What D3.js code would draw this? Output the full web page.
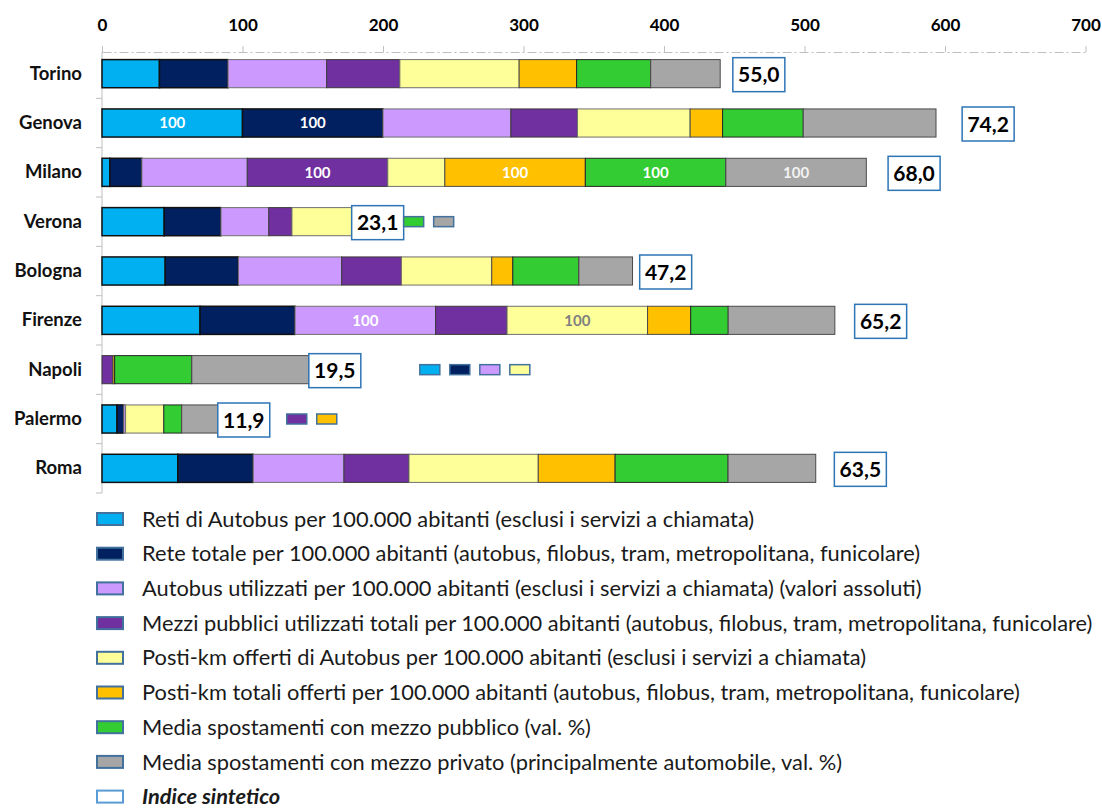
<!DOCTYPE html>
<html>
<head>
<meta charset="utf-8">
<script src="https://cdn.jsdelivr.net/npm/d3@7"></script>
<style>
  body { margin: 0; background: #ffffff; }
  svg { display: block; }
</style>
</head>
<body>
<svg id="chart" width="1102" height="810"></svg>
<script>
// Città (asse verticale, dall'alto verso il basso)
const cities = ["Torino", "Genova", "Milano", "Verona", "Bologna", "Firenze", "Napoli", "Palermo", "Roma"];

// Indicatori normalizzati (100 = valore massimo); null = dato non disponibile
const retiAutobus       = [40.9, 100,  5.6, 44.3, 45.0, 69.8, null, 10.7, 54.0];
const reteTotale        = [48.8, 100, 22.8, 40.4, 52.1, 67.6, null,  4.8, 53.6];
const autobusUtilizzati = [70.2, 91.0, 75.0, 34.0, 73.5, 100, null,  1.3, 64.6];
const mezziTotali       = [52.1, 47.4, 100, 16.5, 42.5, 50.9,  7.8, null, 46.3];
const postiKmAutobus    = [84.9, 80.2, 40.6, 42.5, 64.3, 100, null, 27.2, 92.0];
const postiKmTotali     = [40.9, 23.1, 100,  0,   15.0, 30.7,  1.2, null, 54.7];
const spostPubblico     = [52.7, 57.4, 100, null, 47.0, 26.7, 54.9, 12.7, 80.4];
const spostPrivato      = [49.5, 94.5, 100, null, 38.2, 75.9, 83.3, 25.7, 62.4];

// Indice sintetico per città
const indiceSintetico = [55.0, 74.2, 68.0, 23.1, 47.2, 65.2, 19.5, 11.9, 63.5];

// Tacche dell'asse orizzontale
const xTicks = [0, 100, 200, 300, 400, 500, 600, 700];

const seriesNames = [
  "Reti di Autobus per 100.000 abitanti (esclusi i servizi a chiamata)",
  "Rete totale per 100.000 abitanti (autobus, filobus, tram, metropolitana, funicolare)",
  "Autobus utilizzati per 100.000 abitanti (esclusi i servizi a chiamata) (valori assoluti)",
  "Mezzi pubblici utilizzati totali per 100.000 abitanti (autobus, filobus, tram, metropolitana, funicolare)",
  "Posti-km offerti di Autobus per 100.000 abitanti (esclusi i servizi a chiamata)",
  "Posti-km totali offerti per 100.000 abitanti (autobus, filobus, tram, metropolitana, funicolare)",
  "Media spostamenti con mezzo pubblico (val. %)",
  "Media spostamenti con mezzo privato (principalmente automobile, val. %)"
];
const indexName = "Indice sintetico";

const seriesValues = [retiAutobus, reteTotale, autobusUtilizzati, mezziTotali,
                      postiKmAutobus, postiKmTotali, spostPubblico, spostPrivato];

const seriesColors = ["#00B0F0", "#002060", "#CC99FF", "#7030A0",
                      "#FFFF99", "#FFC000", "#33CC33", "#A6A6A6"];
const seriesStroke = ["#111111", "#111111", "#6f6f6f", "#3a3a3a",
                      "#6f6f6f", "#4a4a4a", "#262626", "#4a4a4a"];
const seriesStrokeW = [1.5, 1.5, 1, 1, 1, 1, 1, 1];
const insideLabelColor = ["#ffffff", "#ffffff", "#ffffff", "#ffffff",
                          "#808080", "#ffffff", "#ffffff", "#f2f2f2"];

// Indicatori mancanti segnalati accanto alla barra (indici delle serie)
const missingCities = ["Verona", "Napoli", "Palermo"];
const missingSeries = [[6, 7], [0, 1, 2, 4], [3, 5]];

const FONT = "Lato, 'Open Sans', 'DejaVu Sans', sans-serif";
const svg = d3.select("#chart");

const x = d3.scaleLinear().domain([0, 700]).range([102, 1085.5]);
const y = d3.scaleBand().domain(cities).range([49, 493])
  .paddingInner(0.43).paddingOuter(0.215);

// ---- Asse superiore (tratto-punto) ----
const xAxisG = svg.append("g")
  .attr("transform", "translate(0,52)")
  .call(d3.axisTop(x).tickValues(xTicks).tickSize(6).tickSizeOuter(0).tickPadding(15));
xAxisG.select(".domain")
  .attr("stroke", "#bfbfbf").attr("stroke-width", 1)
  .attr("stroke-dasharray", "9,3,2,3");
xAxisG.selectAll(".tick line").attr("stroke", "#bfbfbf");
xAxisG.selectAll(".tick text")
  .attr("fill", "#000").style("font-family", FONT)
  .style("font-size", "17px").style("font-weight", "bold");

// ---- Asse verticale ----
const step = y.step();
svg.append("line")
  .attr("x1", x(0)).attr("x2", x(0))
  .attr("y1", 52).attr("y2", y(cities[cities.length - 1]) + y.bandwidth() + step * y.paddingInner() / 2)
  .attr("stroke", "#bfbfbf");
svg.append("g").selectAll("line")
  .data(cities)
  .join("line")
  .attr("x1", x(0) - 6).attr("x2", x(0))
  .attr("y1", d => y(d) + y.bandwidth() + step * y.paddingInner() / 2)
  .attr("y2", d => y(d) + y.bandwidth() + step * y.paddingInner() / 2)
  .attr("stroke", "#bfbfbf");

const yAxisG = svg.append("g")
  .attr("transform", `translate(${x(0)},0)`)
  .call(d3.axisLeft(y).tickSize(0).tickPadding(20));
yAxisG.select(".domain").remove();
yAxisG.selectAll(".tick text")
  .attr("fill", "#111").style("font-family", FONT)
  .style("font-size", "18.5px").style("font-weight", "bold");

// ---- Barre impilate ----
const table = cities.map((c, i) => {
  const row = { city: c };
  seriesValues.forEach((s, k) => { row["s" + k] = s[i] == null ? 0 : s[i]; });
  return row;
});
const keys = seriesValues.map((_, k) => "s" + k);
const stacked = d3.stack().keys(keys)(table);

const barsG = svg.append("g");
stacked.forEach((layer, k) => {
  const g = barsG.append("g");
  g.selectAll("rect")
    .data(layer.filter(d => d[1] - d[0] > 0))
    .join("rect")
    .attr("x", d => x(d[0]))
    .attr("y", d => y(d.data.city))
    .attr("width", d => x(d[1]) - x(d[0]))
    .attr("height", y.bandwidth())
    .attr("fill", seriesColors[k])
    .attr("stroke", seriesStroke[k])
    .attr("stroke-width", seriesStrokeW[k]);
  g.selectAll("text")
    .data(layer.filter(d => d[1] - d[0] === 100))
    .join("text")
    .attr("x", d => x((d[0] + d[1]) / 2))
    .attr("y", d => y(d.data.city) + y.bandwidth() / 2)
    .attr("dy", "0.35em")
    .attr("text-anchor", "middle")
    .attr("fill", insideLabelColor[k])
    .style("font-family", FONT).style("font-size", "15px").style("font-weight", "bold")
    .text(d => d[1] - d[0]);
});

// ---- Etichette dell'indice sintetico ----
const totals = table.map(r => d3.sum(keys, k => r[k]));
const boxW = 52, boxH = 34;
const labelBoxes = cities.map((c, i) => {
  const end = x(totals[i]);
  const cx = x(totals[i] + indiceSintetico[i] / 2);
  const left = Math.max(cx - boxW / 2, end);
  return { city: c, left, value: indiceSintetico[i] };
});
const labG = svg.append("g");
labG.selectAll("rect")
  .data(labelBoxes)
  .join("rect")
  .attr("x", d => d.left)
  .attr("y", d => y(d.city) + y.bandwidth() / 2 - boxH / 2 + 1)
  .attr("width", boxW).attr("height", boxH)
  .attr("fill", "#fff").attr("stroke", "#2E75B6").attr("stroke-width", 1.5);
labG.selectAll("text")
  .data(labelBoxes)
  .join("text")
  .attr("x", d => d.left + boxW / 2)
  .attr("y", d => y(d.city) + y.bandwidth() / 2 + 1)
  .attr("dy", "0.36em")
  .attr("text-anchor", "middle")
  .attr("fill", "#000")
  .style("font-family", FONT).style("font-size", "21px").style("font-weight", "bold")
  .text(d => d3.format(".1f")(d.value).replace(".", ","));

// ---- Indicatori mancanti ----
const markOffset = { Verona: 0, Napoli: 59, Palermo: 17 };
const markW = 20, markH = 10, markGap = 30;
const markG = svg.append("g");
missingCities.forEach((c, j) => {
  const box = labelBoxes.find(b => b.city === c);
  const start = box.left + boxW + markOffset[c];
  markG.selectAll(null)
    .data(missingSeries[j])
    .join("rect")
    .attr("x", (k, n) => start + n * markGap)
    .attr("y", y(c) + y.bandwidth() / 2 - markH / 2)
    .attr("width", markW).attr("height", markH)
    .attr("fill", k => seriesColors[k])
    .attr("stroke", "#41719C").attr("stroke-width", 1.5);
});

// ---- Legenda ----
const legendItems = seriesNames.map((n, k) => ({ name: n, fill: seriesColors[k], index: false }))
  .concat([{ name: indexName, fill: "#ffffff", index: true }]);
const legG = svg.append("g");
const rows = legG.selectAll("g")
  .data(legendItems)
  .join("g")
  .attr("transform", (d, i) => `translate(0,${519 + i * 34.7})`);
rows.append("rect")
  .attr("x", 97).attr("y", -6).attr("width", 26).attr("height", 12)
  .attr("fill", d => d.fill)
  .attr("stroke", d => d.index ? "#5B9BD5" : "#41719C")
  .attr("stroke-width", 2);
const legText = rows.append("text")
  .attr("x", 142).attr("dy", "0.35em")
  .attr("fill", "#1a1a1a")
  .style("font-family", FONT)
  .style("font-size", "18px")
  .style("font-weight", d => d.index ? "bold" : "normal")
  .style("font-style", d => d.index ? "italic" : "normal")
  .text(d => d.name);
// adatta la dimensione del carattere alla riga più lunga
const longest = legText.nodes()[3].getComputedTextLength();
const fs = 18 * 951 / longest;
legText.style("font-size", fs + "px");
</script>
</body>
</html>
